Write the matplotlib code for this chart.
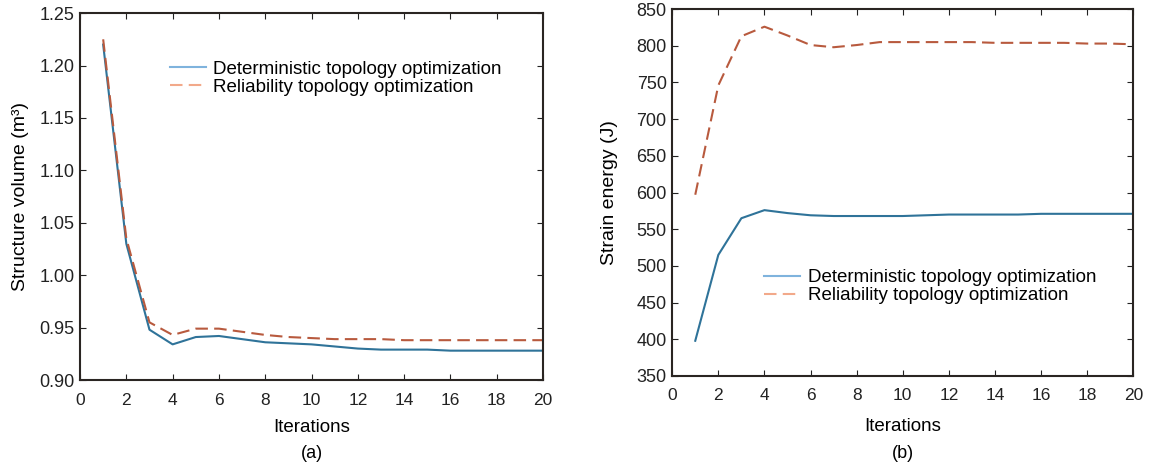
import numpy as np
import matplotlib
matplotlib.use('Agg')
from matplotlib import pyplot as plt
from matplotlib.ticker import MultipleLocator, FormatStrFormatter

plt.rcParams['font.family'] = ['Liberation Sans', 'DejaVu Sans']

iters = np.arange(1, 21)

# structure volume (m^3)
vol_det = [1.220, 1.030, 0.948, 0.934, 0.941, 0.942, 0.939, 0.936, 0.935, 0.934,
           0.932, 0.930, 0.929, 0.929, 0.929, 0.928, 0.928, 0.928, 0.928, 0.928]
vol_rel = [1.225, 1.035, 0.955, 0.943, 0.949, 0.949, 0.946, 0.943, 0.941, 0.940,
           0.939, 0.939, 0.939, 0.938, 0.938, 0.938, 0.938, 0.938, 0.938, 0.938]

# strain energy (J)
se_det = [398, 515, 565, 576, 572, 569, 568, 568, 568, 568,
          569, 570, 570, 570, 570, 571, 571, 571, 571, 571]
se_rel = [597, 746, 813, 826, 814, 801, 798, 801, 805, 805,
          805, 805, 805, 804, 804, 804, 804, 803, 803, 802]

det_color = '#2f7399'
rel_color = '#b85a3e'
lab_det = 'Deterministic topology optimization'
lab_rel = 'Reliability topology optimization'

fig = plt.figure(figsize=(11.53, 4.68), dpi=100)
ax1 = fig.add_axes([0.0694, 0.188, 0.4016, 0.784])
ax2 = fig.add_axes([0.583, 0.1966, 0.400, 0.784])


def style(ax):
    ax.set_xlim(0, 20)
    ax.xaxis.set_major_locator(MultipleLocator(2))
    ax.tick_params(direction='in', top=True, right=True, length=4,
                   labelsize=13, width=0.8, colors='#222222')
    ax.tick_params(axis='x', pad=9, labelsize=12.5)
    ax.tick_params(axis='y', pad=4)
    for s in ax.spines.values():
        s.set_linewidth(1.5)
        s.set_color('#2a2522')
    ax.set_xlabel('Iterations', fontsize=13.5)


def add_legend(ax, x, y):
    leg = ax.legend(loc='upper left', bbox_to_anchor=(x, y), frameon=False,
                    fontsize=13.5, handlelength=1.9, handletextpad=0.4,
                    borderpad=0, borderaxespad=0, labelspacing=0.05)
    leg.get_lines()[0].set_color('#7fb3dd')
    leg.get_lines()[1].set_color('#f2a98a')


# (a)
ax1.plot(iters, vol_det, '-', color=det_color, lw=1.5, label=lab_det)
ax1.plot(iters, vol_rel, '--', color=rel_color, lw=1.5, dashes=(6, 3), label=lab_rel)
ax1.set_ylim(0.90, 1.25)
ax1.yaxis.set_major_locator(MultipleLocator(0.05))
ax1.yaxis.set_major_formatter(FormatStrFormatter('%.2f'))
style(ax1)
ax1.set_ylabel('Structure volume (m³)', fontsize=14)
ax1.yaxis.set_label_coords(-0.11, 0.5)
ax1.xaxis.set_label_coords(0.5, -0.105)
add_legend(ax1, 0.195, 0.871)
fig.text(0.0694 + 0.4016 / 2, 0.030, '(a)', ha='center', va='center', fontsize=13)

# (b)
ax2.plot(iters, se_det, '-', color=det_color, lw=1.5, label=lab_det)
ax2.plot(iters, se_rel, '--', color=rel_color, lw=1.5, dashes=(6, 3), label=lab_rel)
ax2.set_ylim(350, 850)
ax2.yaxis.set_major_locator(MultipleLocator(50))
style(ax2)
ax2.set_ylabel('Strain energy (J)', fontsize=14)
ax2.yaxis.set_label_coords(-0.118, 0.5)
ax2.xaxis.set_label_coords(0.5, -0.115)
add_legend(ax2, 0.2, 0.291)
fig.text(0.583 + 0.400 / 2, 0.030, '(b)', ha='center', va='center', fontsize=13)

fig.savefig('out.png', dpi=100)
